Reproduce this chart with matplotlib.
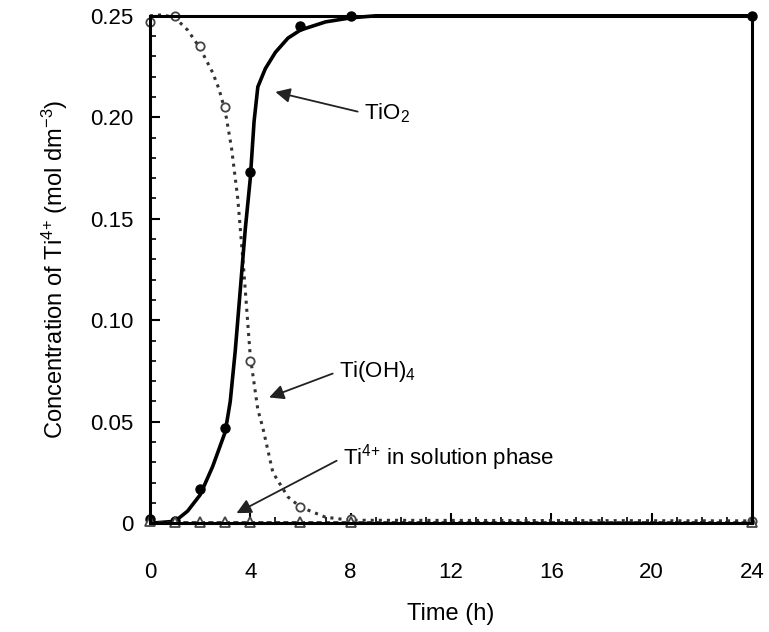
import matplotlib
matplotlib.use("Agg")
import matplotlib.pyplot as plt
from matplotlib.ticker import MultipleLocator, FixedLocator

plt.rcParams['font.family'] = ['Liberation Sans', 'DejaVu Sans']
plt.rcParams['mathtext.default'] = 'regular'

# sampled times (h)
t_pts = [0, 1, 2, 3, 4, 6, 8, 24]
tio2_pts = [0.002, 0.001, 0.017, 0.047, 0.173, 0.245, 0.250, 0.250]
tioh4_pts = [0.247, 0.250, 0.235, 0.205, 0.080, 0.008, 0.002, 0.001]
ti4_pts = [0.001, 0.0005, 0.0005, 0.0005, 0.0005, 0.0005, 0.0005, 0.0005]

# fitted curves
tio2_t = [0, 0.5, 1, 1.5, 2, 2.5, 3, 3.2, 3.4, 3.6, 3.8, 4.0, 4.15, 4.3,
          4.6, 5, 5.5, 6, 7, 8, 9, 24]
tio2_c = [0.0, 0.0005, 0.001, 0.006, 0.014, 0.028, 0.045, 0.060, 0.085,
          0.115, 0.145, 0.170, 0.198, 0.215, 0.224, 0.232, 0.239, 0.243,
          0.247, 0.249, 0.250, 0.250]
tioh4_t = [0, 0.5, 1, 1.5, 2, 2.5, 2.75, 3.0, 3.25, 3.5, 3.75, 4.0, 4.3,
           4.5, 4.9, 5.5, 6, 7, 8, 24]
tioh4_c = [0.250, 0.2505, 0.249, 0.243, 0.234, 0.222, 0.214, 0.203, 0.185,
           0.160, 0.123, 0.082, 0.056, 0.047, 0.025, 0.013, 0.008, 0.003,
           0.0015, 0.0012]
ti4_t = [0, 24]
ti4_c = [0.0008, 0.0008]

xticks = [0, 4, 8, 12, 16, 20, 24]
yticks = [0, 0.05, 0.10, 0.15, 0.20, 0.25]
ytick_labels = ["0", "0.05", "0.10", "0.15", "0.20", "0.25"]

fig = plt.figure(figsize=(7.69, 6.32), dpi=100)
ax = fig.add_axes([0.195, 0.172, 0.783, 0.803])

ax.plot(tioh4_t, tioh4_c, ls=':', color='#333333', lw=2.2, clip_on=False)
ax.plot(tio2_t, tio2_c, ls='-', color='black', lw=2.6, clip_on=False)
ax.plot(ti4_t, ti4_c, ls=(0, (3, 2)), color='#222222', lw=1.2, clip_on=False)

ax.plot(t_pts, tio2_pts, 'o', ms=6.5, mfc='black', mec='black', clip_on=False)
ax.plot(t_pts, tioh4_pts, 'o', ms=6, mfc='white', mec='#444444', mew=1.3,
        clip_on=False)
ax.plot(t_pts, ti4_pts, '^', ms=7, mfc='white', mec='#444444', mew=1.3,
        clip_on=False)

ax.set_xlim(0, 24)
ax.set_ylim(0, 0.25)
ax.xaxis.set_major_locator(FixedLocator(xticks))
ax.xaxis.set_minor_locator(MultipleLocator(1))
ax.yaxis.set_major_locator(FixedLocator(yticks))
ax.set_yticklabels(ytick_labels)
ax.yaxis.set_minor_locator(MultipleLocator(0.01))
ax.tick_params(which='major', direction='in', length=7, width=1.5,
               labelsize=16, pad=12)
ax.tick_params(axis='x', which='major', pad=28)
ax.tick_params(which='minor', direction='in', length=4, width=1.2)
for s in ax.spines.values():
    s.set_linewidth(2.2)

ax.set_xlabel("Time (h)", fontsize=17, labelpad=14)
ax.set_ylabel("Concentration of Ti$^{4{+}}$ (mol dm$^{-3}$)", fontsize=17,
              labelpad=14)

arrow = dict(arrowstyle='-|>', color='#222222', lw=1.3, mutation_scale=22,
             relpos=(0, 0.5), shrinkA=3, shrinkB=0)
ax.annotate("TiO$_2$", xy=(5.0, 0.2125), xytext=(8.55, 0.202),
            fontsize=16, va='center', ha='left', arrowprops=arrow)
ax.annotate("Ti(OH)$_4$", xy=(4.75, 0.062), xytext=(7.55, 0.075),
            fontsize=16, va='center', ha='left', arrowprops=arrow)
ax.annotate("Ti$^{4{+}}$ in solution phase", xy=(3.45, 0.005),
            xytext=(7.7, 0.0325), fontsize=16, va='center', ha='left',
            arrowprops=arrow)

fig.savefig("out.png", dpi=100)
